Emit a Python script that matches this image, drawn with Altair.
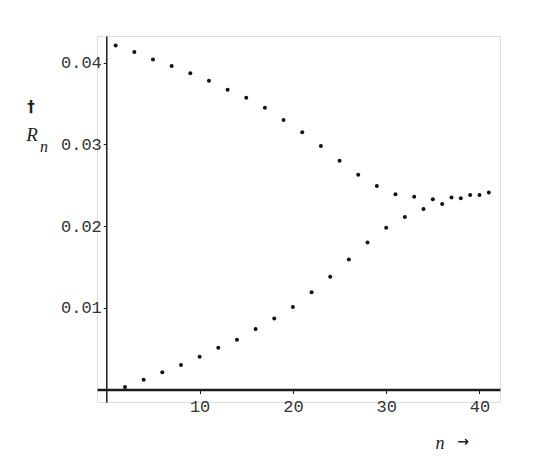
import altair as alt
import pandas as pd

# Upper series (odd n) and lower series (even n)
n_upper = [1, 3, 5, 7, 9, 11, 13, 15, 17, 19, 21, 23, 25, 27, 29, 31, 33, 35, 37, 39, 41]
r_upper = [0.0421, 0.0413, 0.0404, 0.0396, 0.0387, 0.0378, 0.0367, 0.0357, 0.0345, 0.0330,
           0.0315, 0.0298, 0.0280, 0.0263, 0.0249, 0.0239, 0.0236, 0.0233, 0.0235, 0.0238, 0.0241]
n_lower = [2, 4, 6, 8, 10, 12, 14, 16, 18, 20, 22, 24, 26, 28, 30, 32, 34, 36, 38, 40]
r_lower = [0.0003, 0.0012, 0.0021, 0.0030, 0.0040, 0.0051, 0.0061, 0.0074, 0.0087, 0.0101,
           0.0119, 0.0138, 0.0159, 0.0180, 0.0198, 0.0211, 0.0221, 0.0227, 0.0234, 0.0238]

x_ticks = [10, 20, 30, 40]
y_ticks = [0.01, 0.02, 0.03, 0.04]

df = pd.concat([
    pd.DataFrame({"n": n_upper, "r": r_upper, "series": "upper"}),
    pd.DataFrame({"n": n_lower, "r": r_lower, "series": "lower"}),
])
one = pd.DataFrame({"k": [0]})

mono = "Liberation Mono"
ink = "#1a1a1a"

x_enc = alt.X(
    "n:Q",
    scale=alt.Scale(domain=[-1, 42.2], nice=False, zero=False),
    axis=alt.Axis(values=x_ticks, title=None, grid=False, offset=-12.5,
                  domainWidth=2.5, domainColor=ink, tickColor=ink, tickSize=4,
                  tickWidth=1, labelFont=mono, labelFontSize=17, labelColor="#333",
                  labelPadding=5),
)
y_enc = alt.Y(
    "r:Q",
    scale=alt.Scale(domain=[-0.00153, 0.04327], nice=False, zero=False),
    axis=alt.Axis(values=y_ticks, format=".2f", title=None, grid=False, offset=-9.3,
                  domainWidth=1.5, domainColor=ink, tickColor=ink, tickSize=3,
                  tickWidth=1, labelFont=mono, labelFontSize=17, labelColor="#333",
                  labelPadding=2),
)

points = alt.Chart(df).mark_circle(size=16, color="#111", opacity=1).encode(x=x_enc, y=y_enc)

def label(text, x, y, font, size, italic=False, bold=False):
    kw = {}
    if italic:
        kw["fontStyle"] = "italic"
    if bold:
        kw["fontWeight"] = "bold"
    return alt.Chart(one).mark_text(text=text, font=font, fontSize=size, color="#222", **kw).encode(
        x=alt.value(x), y=alt.value(y))

dagger = label("\u2020", -66, 71, "DejaVu Sans", 15, bold=True)
r_lab = label("R", -65, 99, "Liberation Serif", 19, italic=True)
n_sub = label("n", -53, 111, "Liberation Serif", 16, italic=True)
n_lab = label("n", 343, 408, "Liberation Serif", 18, italic=True)
arrow = label("\u2192", 366, 406, "DejaVu Sans", 14, bold=True)

chart = alt.layer(points, dagger, r_lab, n_sub, n_lab, arrow).properties(
    width=403, height=366,
    autosize=alt.AutoSizeParams(type="none"),
    padding={"left": 89, "top": 28, "right": 30, "bottom": 60},
).configure_view(stroke=None).configure(background="white")

chart.save("out.html", embed_options={"renderer": "svg", "actions": False})
